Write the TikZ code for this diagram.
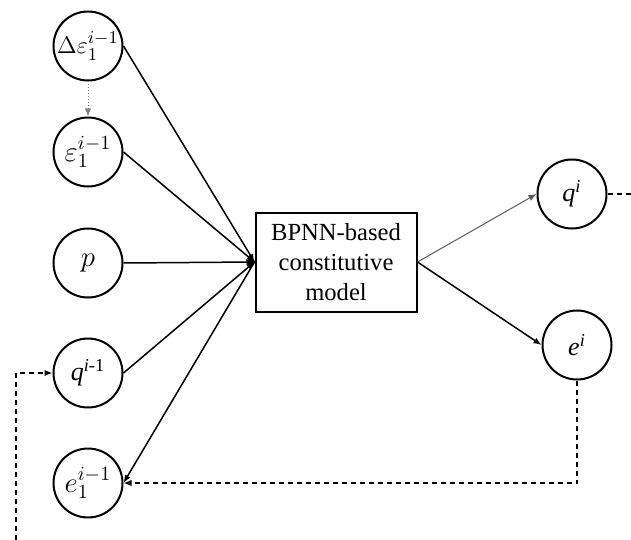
\documentclass[tikz,border=0pt]{standalone}
\usepackage{fontspec}
\setmainfont{Liberation Serif}
\usetikzlibrary{arrows.meta}

\tikzset{
  var/.style={circle, draw, line width=1pt, minimum size=34.5pt, inner sep=0pt,
              font=\fontsize{13}{15}\selectfont},
  mvar/.style={var, inner sep=-3pt, font=\fontsize{14.5}{16}\selectfont},
  model/.style={draw, line width=1pt, minimum width=80.5pt, minimum height=49.5pt,
                align=center, font=\fontsize{12.3}{15}\selectfont},
  link/.style={line width=0.75pt, -{Latex[length=4pt,width=3.2pt]}},
  loop/.style={line width=0.7pt, dash pattern=on 2.5pt off 2pt},
}

\begin{document}
\begin{tikzpicture}[x=0.5pt, y=-0.5pt]

  \useasboundingbox (0,0) rectangle (631,540);

  % Input variables at step i-1
  \node[mvar, font=\fontsize{12.8}{15}\selectfont] (dEps) at (88,46) {$\Delta\varepsilon_1^{i-1}$};
  \node[mvar] (eps)   at (88,152) {$\varepsilon_1^{i-1}$};
  \node[mvar] (p)     at (88,263) {$p$};
  \node[var]  (qPrev) at (88,373) {\textit{q}\textsuperscript{\textit{i}-1}};
  \node[mvar] (ePrev) at (88,483) {$e_1^{i-1}$};

  % The network model
  \node[model] (bpnn) at (336,262) {BPNN-based\\constitutive\\model};

  % Outputs at step i
  \node[var] (qNew) at (572,194) {\textit{q}\textsuperscript{\textit{i}}};
  \node[var] (eNew) at (577,345) {\textit{e}\textsuperscript{\textit{i}}};

  % Free ends of the feedback lines
  \coordinate (R) at (631,194);
  \coordinate (L) at (16,540);

  % Increment feeds the strain
  \draw[link, gray, line width=0.5pt, densely dotted] (dEps.south) -- (eps.north);

  % Inputs into the model
  \draw[link] (dEps.east)  -- (bpnn.west);
  \draw[link] (eps.east)   -- (bpnn.west);
  \draw[link] (p.east)     -- (bpnn.west);
  \draw[link] (qPrev.east) -- (bpnn.west);
  \draw[link] (bpnn.west)  -- (ePrev.east);
  \fill (bpnn.west) ++(-3,0) circle (3.5);

  % Model outputs
  \draw[link, gray!70!black, line width=0.5pt] (bpnn.east) -- (qNew.west);
  \draw[link] (bpnn.east) -- (eNew.west);

  % Feedback to the next step
  \draw[loop] (qNew.east) -- (R);
  \draw[loop, -{Latex[length=4pt,width=3.2pt]}] (eNew.south) |- (ePrev.east);
  \draw[loop, -{Latex[length=4pt,width=3.2pt]}] (L) |- (qPrev.west);

\end{tikzpicture}
\end{document}
